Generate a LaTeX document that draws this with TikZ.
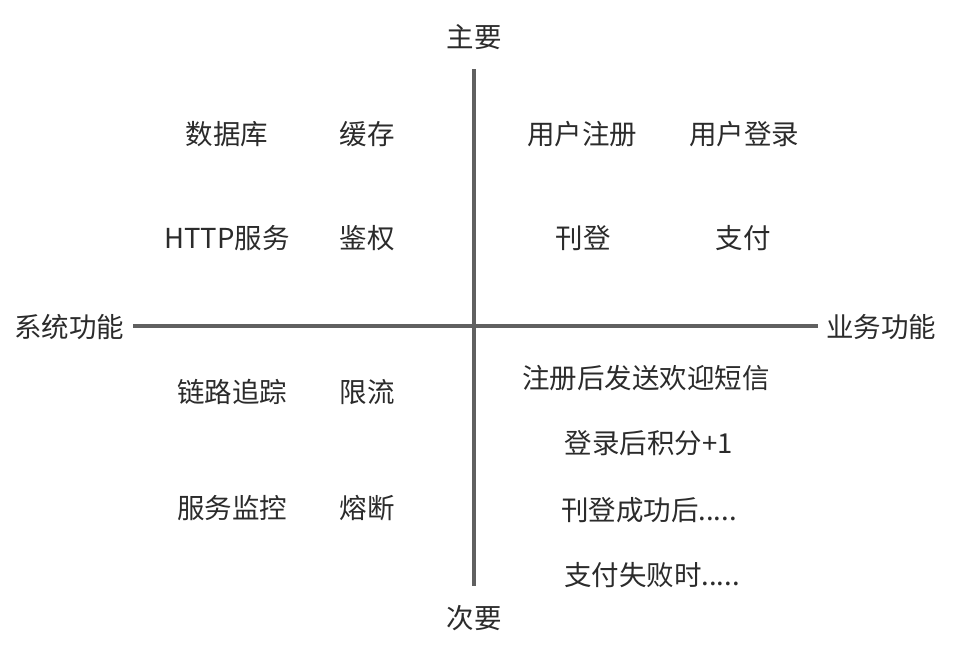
\documentclass[tikz,border=0pt]{standalone}
\usepackage{fontspec}
\setmainfont{Noto Sans CJK SC}
\usepackage{tikz}
\usetikzlibrary{positioning}
\definecolor{axisgray}{HTML}{606060}
\definecolor{txt}{HTML}{2B2B2B}

\begin{document}
\begin{tikzpicture}[
  x=1pt, y=-1pt,
  font=\fontsize{27.5}{31}\selectfont,
  lab/.style={text=txt, inner sep=0pt, anchor=center},
  axis/.style={draw=axisgray, line width=4pt}
]
\useasboundingbox (0,0) rectangle (954,656);
% axis labels
\node[lab] (top) at (474,37) {主要};
\node[lab] (bot) at (474,618) {次要};
\node[lab] (lft) at (69,327) {系统功能};
\node[lab] (rgt) at (881,327) {业务功能};
% axes
\coordinate (vtop) at (474,69);
\coordinate (vbot) at (474,586);
\coordinate (hlft) at (133,326);
\coordinate (hrgt) at (818,326);
\draw[axis] (vtop) -- (vbot);
\draw[axis] (hlft) -- (hrgt);
% system / main
\node[lab] (db) at (227,134) {数据库};
\node[lab] (cache) at (367,134) {缓存};
\node[lab] (http) at (227,238) {HTTP服务};
\node[lab] (auth) at (367,238) {鉴权};
% business / main
\node[lab] (reg) at (582,134) {用户注册};
\node[lab] (login) at (744,134) {用户登录};
\node[lab] (post) at (583,238) {刊登};
\node[lab] (pay) at (743,238) {支付};
% system / minor
\node[lab] (trace) at (232,392) {链路追踪};
\node[lab] (limit) at (367,392) {限流};
\node[lab] (mon) at (232,508) {服务监控};
\node[lab] (fuse) at (367,508) {熔断};
% business / minor
\node[lab] (sms) at (646,378) {注册后发送欢迎短信};
\node[lab] (pts) at (649,443) {登录后积分+1};
\node[lab] (postok) at (649,510) {刊登成功后.....};
\node[lab] (payfail) at (652,575) {支付失败时.....};
\end{tikzpicture}
\end{document}
